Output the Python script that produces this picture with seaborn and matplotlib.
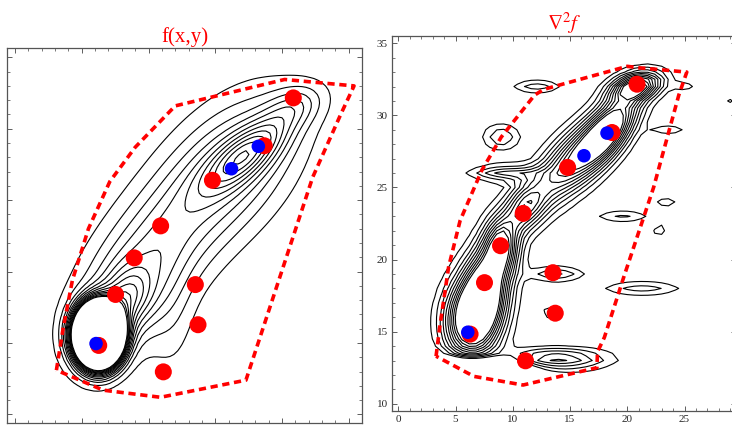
import numpy as np
import pandas as pd
import matplotlib
matplotlib.use("Agg")
import matplotlib.pyplot as plt
from matplotlib.ticker import MultipleLocator, NullFormatter
import seaborn as sns

# ---------------- data ----------------
red_x = [6.27, 7.53, 8.93, 10.91, 14.79, 18.67, 20.85, 13.51, 13.71, 11.11]
red_y = [14.83, 18.40, 20.96, 23.20, 26.39, 28.81, 32.16, 19.09, 16.28, 12.98]
blue_x = [6.07, 16.22, 18.23]
blue_y = [14.96, 27.20, 28.77]

# dashed hull, left panel
hullL_x = [3.1, 3.6, 4.3, 5.5, 7.1, 9.0, 12.0, 20.2, 25.4, 24.4, 22.3, 19.8, 17.3, 10.9, 6.6, 3.1]
hullL_y = [13.1, 16.0, 19.4, 23.0, 26.3, 28.7, 31.6, 33.45, 33.0, 31.0, 26.6, 19.5, 12.4, 11.2, 11.7, 13.1]
# dashed hull, right panel
hullR_x = [3.3, 3.6, 4.4, 5.4, 7.3, 9.0, 11.9, 12.7, 20.0, 21.0, 25.2, 24.5, 22.3, 19.7, 18.0, 17.4, 17.35, 10.9, 6.6, 3.3]
hullR_y = [13.3, 15.2, 19.5, 22.7, 26.2, 28.5, 31.4, 31.8, 33.4, 33.3, 33.0, 31.4, 25.0, 18.8, 14.6, 13.6, 12.5, 11.3, 11.9, 13.3]

# contour field components of f(x,y): centre, widths, rotation (deg), height
fL_cx  = [6.25, 8.3, 17.4, 9.3, 15.8, 11.8, 21.0]
fL_cy  = [15.55, 18.0, 28.3, 19.8, 27.0, 16.5, 31.6]
fL_sa  = [0.975, 1.2, 2.6, 4.5, 4.5, 1.2, 1.5]
fL_sb  = [1.2, 1.6, 1.0, 2.4, 2.6, 3.2, 0.9]
fL_rot = [0, -30, 37, 52, 45, 0, 20]
fL_amp = [10.0, 0.5, 0.65, 0.5, 0.5, 0.09, 0.22]
fL_levels = [0.1, 0.2, 0.3, 0.4, 0.5, 0.6, 0.7, 0.8, 0.9, 1.0, 1.1, 1.2, 1.3]

# contour field components of the Laplacian panel
fR_cx  = [6.3, 7.6, 8.0, 9.0, 11.0, 15.2, 18.5, 20.8, 9.4, 6.5,
          9.0, 12.1, 13.8, 13.3, 13.7, 21.3, 19.6, 23.4, 23.6, 25.0, 22.8, 24.3, 26.0, 23.9, 28.9]
fR_cy  = [15.6, 18.6, 17.0, 21.0, 23.6, 26.8, 29.1, 32.0, 26.0, 12.0,
          28.5, 32.0, 19.0, 16.3, 13.1, 18.0, 23.0, 23.9, 29.0, 32.1, 22.0, 35.2, 35.3, 16.0, 31.0]
fR_sa  = [1.5, 1.3, 1.2, 1.0, 1.4, 3.0, 2.2, 1.5, 2.0, 2.8,
          1.1, 1.4, 1.6, 0.6, 3.0, 2.3, 1.6, 0.7, 1.1, 0.7, 0.6, 0.4, 0.6, 0.35, 0.4]
fR_sb  = [1.8, 1.9, 1.6, 1.3, 1.0, 1.2, 1.0, 0.6, 0.35, 0.7,
          0.6, 0.32, 0.35, 0.35, 0.5, 0.35, 0.3, 0.22, 0.25, 0.2, 0.4, 0.15, 0.15, 0.2, 0.15]
fR_rot = [0, -25, 0, 0, 40, 38, 45, 10, 0, 0,
          0, 0, 0, 0, 0, 0, 0, 0, 0, 0, 30, 0, 0, 0, 0]
fR_amp = [1.3, 1.0, 0.5, 0.9, 0.7, 0.95, 1.05, 1.05, 0.45, -1.6,
          0.3, 0.27, 0.32, 0.18, 0.55, 0.26, 0.22, 0.2, 0.18, 0.18, 0.15, 0.13, 0.13, 0.13, 0.13]
fR_levels = [0.1, 0.2, 0.3, 0.4, 0.5, 0.6, 0.7, 0.8, 0.9, 1.0]


def field(X, Y, cx, cy, sa, sb, rot, amp):
    Z = np.zeros_like(X)
    for x0, y0, a, b, r, h in zip(cx, cy, sa, sb, rot, amp):
        t = np.deg2rad(r)
        u = (X - x0) * np.cos(t) + (Y - y0) * np.sin(t)
        v = -(X - x0) * np.sin(t) + (Y - y0) * np.cos(t)
        Z += h * np.exp(-0.5 * ((u / a) ** 2 + (v / b) ** 2))
    return Z


sns.set_style("ticks")
plt.rcParams["font.family"] = ["Liberation Serif", "DejaVu Serif"]
plt.rcParams["mathtext.fontset"] = "stix"

fig = plt.figure(figsize=(7.32, 4.29), dpi=100)
axL = fig.add_axes([0.0096, 0.014, 0.4850, 0.874])
axR = fig.add_axes([0.5355, 0.042, 0.4700, 0.874])

# ---- contour fields ----
gx = np.arange(-1, 27, 0.3)
gy = np.arange(9, 36, 0.3)
X, Y = np.meshgrid(gx, gy)
ZL = field(X, Y, fL_cx, fL_cy, fL_sa, fL_sb, fL_rot, fL_amp)
axL.contour(X, Y, ZL, levels=fL_levels, colors="black", linewidths=0.8)

gx2 = np.arange(-1, 30.5, 0.6)
gy2 = np.arange(9, 36.5, 0.5)
X2, Y2 = np.meshgrid(gx2, gy2)
ZR = field(X2, Y2, fR_cx, fR_cy, fR_sa, fR_sb, fR_rot, fR_amp)
axR.contour(X2, Y2, ZR, levels=fR_levels, colors="black", linewidths=0.8)

for ax, hx, hy in [(axL, hullL_x, hullL_y), (axR, hullR_x, hullR_y)]:
    dfh = pd.DataFrame({"x": hx, "y": hy})
    sns.lineplot(data=dfh, x="x", y="y", sort=False, estimator=None, ax=ax,
                 color="red", linewidth=2.6, dashes=False, zorder=3)
    ax.lines[-1].set_dashes((2.0, 1.3))
    dfr = pd.DataFrame({"x": red_x, "y": red_y})
    sns.scatterplot(data=dfr, x="x", y="y", ax=ax, color="red", s=150,
                    edgecolor="none", zorder=4)
    dfb = pd.DataFrame({"x": blue_x, "y": blue_y})
    sns.scatterplot(data=dfb, x="x", y="y", ax=ax, color="blue", s=95,
                    edgecolor="none", zorder=5)
    ax.set_xlabel("")
    ax.set_ylabel("")

axL.set_xlim(-0.6, 26.0)
axL.set_ylim(9.4, 35.65)
axR.set_xlim(-0.55, 29.5)
axR.set_ylim(9.5, 35.5)

for ax in (axL, axR):
    ax.xaxis.set_major_locator(MultipleLocator(5))
    ax.yaxis.set_major_locator(MultipleLocator(5))
    ax.xaxis.set_minor_locator(MultipleLocator(1))
    ax.yaxis.set_minor_locator(MultipleLocator(1))
    ax.tick_params(which="major", direction="in", length=3.5, width=0.6,
                   top=True, right=True, color="#444444")
    ax.tick_params(which="minor", direction="in", length=2, width=0.5,
                   top=True, right=True, color="#444444")
    for s in ax.spines.values():
        s.set_linewidth(0.9)
        s.set_color("#555555")

axL.xaxis.set_major_formatter(NullFormatter())
axL.yaxis.set_major_formatter(NullFormatter())
axR.spines["right"].set_visible(False)
axR.tick_params(axis="both", labelsize=8, pad=3)

axL.set_title("f(x,y)", color="red", fontsize=15, pad=4)
axR.set_title(r"$\nabla^2 f$", color="red", fontsize=15, pad=4)

fig.savefig("out.png", dpi=100)
